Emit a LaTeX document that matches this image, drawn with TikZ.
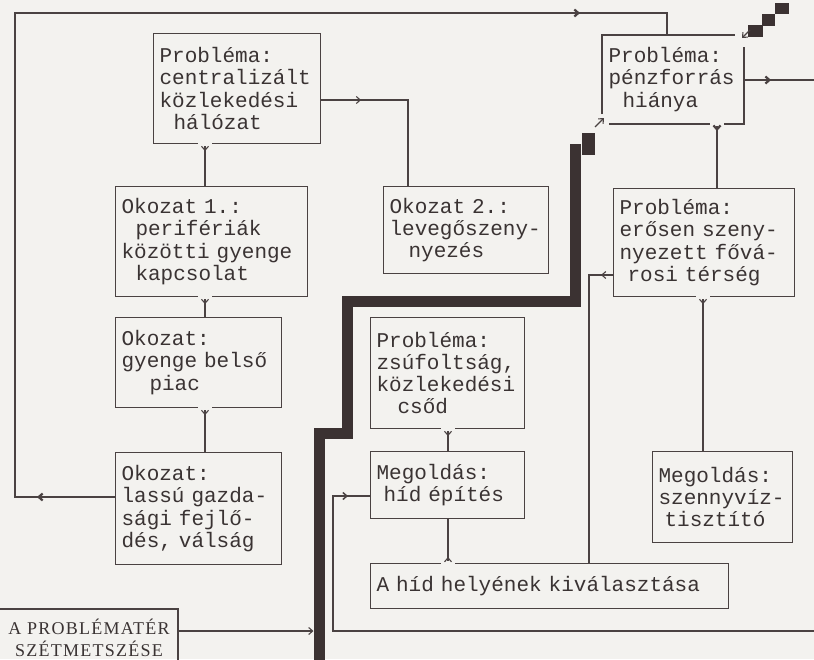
\documentclass[tikz,border=0pt]{standalone}
\usepackage{fontspec}
\usetikzlibrary{arrows.meta,decorations.markings,calc}
\newfontfamily\boxfont{Liberation Mono}
\newfontfamily\capfont{Liberation Serif}[LetterSpace=7]
\definecolor{ink}{HTML}{4A4242}
\definecolor{txt}{HTML}{3A3333}
\definecolor{bgc}{HTML}{F3F2EF}
\definecolor{cutc}{HTML}{3B3232}
\exhyphenpenalty=10000
\hyphenpenalty=10000
\tikzset{
  tipA/.tip={Straight Barb[length=4pt,width=7pt]},
  bx/.style={draw=ink, line width=1.1pt, inner xsep=6pt, inner ysep=0pt,
    align=left, anchor=north west, text=txt,
    font=\boxfont\fontsize{21}{22.3}\selectfont},
  conn/.style={draw=ink, color=ink, line width=1.1pt},
  heavy/.style={draw=ink, color=ink, line width=2.2pt},
  tipat/.style={postaction={decorate, decoration={markings,
    mark=at position #1 with {\arrow{tipA}}}}},
  gapstart/.style={postaction={decorate, decoration={markings,
    mark=at position 0.01pt with {\fill[bgc] (-1.8pt,-7pt) rectangle (1.8pt,7pt);}}}},
  cutline/.style={draw=cutc, line width=11pt, line join=miter, line cap=butt},
}
\begin{document}
\begin{tikzpicture}[x=1pt,y=-1pt]
\useasboundingbox (0,0) rectangle (814,659);
\begin{scope}
\clip (0,0) rectangle (814,659);
\fill[bgc] (0,0) rectangle (814,659);

% boxes
\node[bx, text width=155pt, minimum height=110pt] (b1) at (153,33)
  {Probléma:\\centralizált\\közlekedési\\~~hálózat};
\node[bx, text width=180pt, minimum height=110pt] (b2) at (115,186)
  {Okozat 1.:\\~~perifériák\\közötti gyenge\\~~kapcsolat};
\node[bx, text width=154pt, minimum height=90pt] (b3) at (115,317)
  {Okozat:\\gyenge belső\\~~~~piac};
\node[bx, text width=154pt, minimum height=112pt] (b4) at (115,452)
  {Okozat:\\lassú gazda-\\sági fejlő-\\dés, válság};
\node[bx, text width=153pt, minimum height=87pt] (b6) at (383,186)
  {Okozat 2.:\\levegőszeny-\\\hspace*{19pt}nyezés};
\node[bx, draw=none, text width=129pt, minimum height=88pt] (b7) at (602,35)
  {Probléma:\\pénzforrás\\~~hiánya};
\node[bx, text width=169pt, minimum height=108pt] (b8) at (613,188)
  {Probléma:\\erősen szeny-\\nyezett fővá-\\\hspace*{8pt}rosi térség};
\node[bx, text width=128pt, minimum height=91pt] (b9) at (652,451)
  {Megoldás:\\szennyvíz-\\\hspace*{6pt}tisztító};
\node[bx, text width=142pt, minimum height=111pt] (b10) at (370,317)
  {Probléma:\\zsúfoltság,\\közlekedési\\~~~csőd};
\node[bx, text width=142pt, minimum height=67pt] (b11) at (370,451)
  {Megoldás:\\~híd építés};
\node[bx, text width=346pt, minimum height=45pt] (b12) at (370,563)
  {A híd helyének kiválasztása};

% broken frame of the pénzforrás box
\draw[ink, line width=2.4pt] ($(b7.south west)+(0,-10)$) -- (b7.north west) -- ++(133,0);
\draw[ink, line width=2.4pt] ($(b7.north east)+(0,12)$) -- (b7.south east) -- ++(-135,0);

% cut line
\draw[cutline] (319.5,670) -- (319.5,433) -- (347,433) -- (347,301.5) -- (575.5,301.5) -- (575.5,144);
\fill[cutc] (582,133) rectangle (595,155);
\fill[cutc] (748,25) rectangle (763,37);
\fill[cutc] (762,14) rectangle (775,26);
\fill[cutc] (775,3) rectangle (789,14);
\coordinate (cb1) at (595,127);
\coordinate (cb2) at (604,118);
\coordinate (ct1) at (750,30);
\coordinate (ct2) at (742,38);
\draw[conn, -{tipA}] (cb1) -- (cb2);
\draw[conn, -{tipA}] (ct1) -- (ct2);

% "A PROBLÉMATÉR SZÉTMETSZÉSE"
\draw[ink, line width=1.3pt] (0,609) -| (178,670);
\node[font=\capfont\fontsize{18}{22}\selectfont, align=center, text=txt, inner sep=0pt] (t5) at (89,638)
  {A PROBLÉMATÉR\\SZÉTMETSZÉSE};
\coordinate (c13s) at (178,631);
\coordinate (cutA) at (313.5,631);
\draw[conn, -{tipA}] (c13s) -- (cutA);

% connectors
\draw[conn, gapstart, tipat=7pt] ($(b1.south west)+(52,0)$) -- ($(b2.north west)+(90,0)$);
\draw[conn, gapstart, tipat=7pt] ($(b2.south west)+(90,0)$) -- ($(b3.north west)+(90,0)$);
\draw[conn, gapstart, tipat=7pt] ($(b3.south west)+(90,0)$) -- ($(b4.north west)+(90,0)$);
\draw[heavy, postaction={decorate, decoration={markings,
    mark=at position 78pt with {\arrow{tipA}},
    mark=at position 1149pt with {\arrow{tipA}}}}]
  ($(b4.north west)+(0,45)$) -| (15,13) -| ($(b7.north west)+(65,0)$);
\draw[conn, tipat=40pt] ($(b1.north east)+(0,67)$) -| ($(b6.north west)+(25,0)$);
\coordinate (e6) at (820,80);
\draw[heavy, tipat=27pt] ($(b7.north east)+(0,45)$) -- (e6);
\draw[heavy, gapstart, tipat=7pt] ($(b7.south west)+(115,0)$) -- ($(b8.north west)+(104,0)$);
\draw[conn, tipat=12pt] ($(b8.north west)+(0,87)$) -| ($(b12.north west)+(219,0)$);
\draw[conn, gapstart, tipat=7pt] ($(b8.south west)+(90,0)$) -- ($(b9.north west)+(51,0)$);
\draw[conn, gapstart, tipat=7pt] ($(b10.south west)+(78,0)$) -- ($(b11.north west)+(78,0)$);
\draw[conn, gapstart, tipat=6pt] ($(b12.north west)+(78,0)$) -- ($(b11.south west)+(78,0)$);
\coordinate (s12) at (820,631);
\draw[conn, line width=1.5pt, tipat=-22pt] (s12) -| (333,496) -- ($(b11.north west)+(0,45)$);
\end{scope}
\end{tikzpicture}
\end{document}
